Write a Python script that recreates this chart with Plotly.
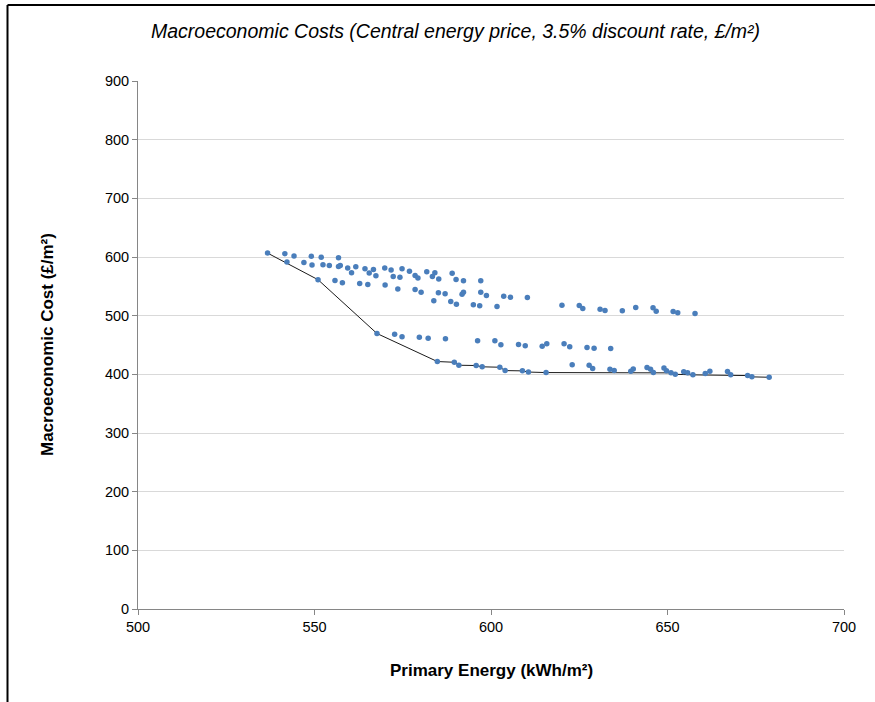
import plotly.graph_objects as go

# Primary energy (kWh/m²) and macroeconomic cost (£/m²) for each option package
primary_energy = [
    536.7, 541.6, 544.2, 549.1, 551.9, 556.8, 542.2, 547.0, 549.3, 552.4,
    554.2, 556.8, 557.3, 559.4, 561.7, 560.5, 564.3, 565.5, 566.7, 567.4,
    569.9, 571.7, 572.3, 574.8, 574.2, 576.9, 578.5, 579.3, 581.8, 583.4,
    584.1, 585.2, 589.0, 590.1, 592.2, 597.1, 551.0, 555.8, 557.9, 562.8,
    565.1, 570.0, 573.6, 578.5, 580.2, 583.8, 585.1, 587.0, 588.6, 590.2,
    591.8, 592.2, 595.0, 596.8, 597.1, 598.7, 601.7, 603.6, 605.5, 610.3,
    620.1, 625.0, 626.0, 630.9, 632.3, 637.2, 641.0, 645.9, 646.8, 651.6,
    652.9, 657.8,
    567.7, 572.7, 574.8, 579.7, 582.2, 587.1, 596.2, 601.1, 602.8, 607.8,
    609.7, 614.5, 615.8, 620.7, 622.3, 627.2, 629.2, 633.9,
    584.8, 589.6, 590.9, 595.8, 597.5, 602.5, 604.0, 608.9, 610.6, 615.6,
    623.0, 627.8, 628.8, 633.7, 634.9, 639.6, 640.3, 644.2, 645.2, 646.0,
    649.0, 649.7, 651.0, 652.2, 654.6, 655.7, 657.2, 660.7, 662.0, 667.0,
    667.9, 672.7, 673.9, 678.8,
]
macro_cost = [
    606.7, 605.7, 601.6, 601.1, 599.4, 598.9, 591.4, 590.8, 586.2, 586.9,
    585.7, 584.0, 585.7, 581.1, 583.5, 573.3, 580.1, 572.6, 578.9, 568.1,
    581.1, 577.7, 566.9, 580.1, 565.6, 575.5, 568.6, 564.0, 575.0, 566.9,
    573.3, 562.3, 572.1, 561.8, 559.6, 559.6, 561.3, 560.1, 556.2, 555.0,
    553.3, 552.1, 545.6, 544.7, 540.1, 525.4, 539.1, 537.4, 524.2, 519.6,
    536.7, 540.1, 518.6, 516.9, 540.1, 534.5, 515.7, 533.3, 531.6, 531.1,
    517.9, 517.4, 512.3, 511.1, 508.9, 508.4, 514.0, 513.5, 507.7, 507.2,
    505.0, 503.8,
    469.6, 468.4, 464.0, 463.3, 461.6, 460.6, 457.3, 457.1, 450.5, 450.8,
    448.8, 447.9, 452.2, 452.0, 446.9, 445.7, 444.3, 444.0,
    421.8, 420.6, 415.5, 415.0, 412.8, 412.1, 406.4, 405.9, 403.9, 403.0,
    416.2, 415.5, 409.8, 408.6, 406.4, 405.2, 409.3, 411.5, 408.6, 403.0,
    411.0, 405.9, 402.5, 400.1, 404.2, 402.5, 399.1, 401.3, 405.2, 404.7,
    399.1, 397.9, 395.7, 395.0,
]

# Cost-optimal frontier through the lowest-cost packages
front_energy = [536.7, 551.0, 567.7, 584.8, 589.6, 590.9, 595.8, 597.5, 602.5,
                604.0, 608.9, 610.6, 615.6, 651.0, 652.2, 657.2, 672.7, 673.9, 678.8]
front_cost = [606.7, 561.3, 469.6, 421.8, 420.6, 415.5, 415.0, 412.8, 412.1,
              406.4, 405.9, 403.9, 403.0, 402.5, 400.1, 399.1, 397.9, 395.7, 395.0]

x_ticks = [500, 550, 600, 650, 700]
y_ticks = [0, 100, 200, 300, 400, 500, 600, 700, 800, 900]

FONT = "Liberation Sans, Arial, sans-serif"
W, H = 875, 702
ML, MR, MT, MB = 138, 31, 81, 93
PW, PH = W - ML - MR, H - MT - MB


def px_to_paper_x(px):
    return (px - ML) / PW


def px_to_paper_y(py):
    return (H - MB - py) / PH


fig = go.Figure()

fig.add_trace(go.Scatter(
    x=front_energy, y=front_cost, mode="lines",
    line=dict(color="#1a1a1a", width=1),
    hoverinfo="skip", showlegend=False,
))

fig.add_trace(go.Scatter(
    x=primary_energy, y=macro_cost, mode="markers",
    marker=dict(color="#4a7ebb", size=5.5, line=dict(width=0)),
    showlegend=False,
))

fig.update_layout(
    width=W, height=H,
    margin=dict(l=ML, r=MR, t=MT, b=MB),
    paper_bgcolor="white", plot_bgcolor="white",
    font=dict(family=FONT, size=14, color="#000000"),
    showlegend=False,
    xaxis=dict(
        range=[500, 700], tickvals=x_ticks, ticktext=[str(v) for v in x_ticks],
        showgrid=False, zeroline=False,
        showline=True, linecolor="#868686", linewidth=1,
        ticks="outside", ticklen=5, tickcolor="#868686",
        tickfont=dict(family=FONT, size=14.5, color="#000000"),
    ),
    yaxis=dict(
        range=[0, 900], tickvals=y_ticks, ticktext=[str(v) for v in y_ticks],
        showgrid=True, gridcolor="#d9d9d9", gridwidth=1, zeroline=False,
        showline=True, linecolor="#868686", linewidth=1,
        ticks="outside", ticklen=5, tickcolor="#868686",
        tickfont=dict(family=FONT, size=14.5, color="#000000"),
    ),
    annotations=[
        dict(
            text="<i>Macroeconomic Costs (Central energy price, 3.5% discount rate, £/m²)</i>",
            xref="paper", yref="paper",
            x=px_to_paper_x(455), y=px_to_paper_y(31),
            xanchor="center", yanchor="middle", showarrow=False,
            font=dict(family=FONT, size=19.5, color="#000000"),
        ),
        dict(
            text="<b>Primary Energy (kWh/m²)</b>",
            xref="paper", yref="paper",
            x=px_to_paper_x(491), y=px_to_paper_y(670),
            xanchor="center", yanchor="middle", showarrow=False,
            font=dict(family=FONT, size=17, color="#000000"),
        ),
        dict(
            text="<b>Macroeconomic Cost (£/m²)</b>",
            xref="paper", yref="paper",
            x=px_to_paper_x(47), y=px_to_paper_y(345),
            xanchor="center", yanchor="middle", showarrow=False, textangle=-90,
            font=dict(family=FONT, size=17, color="#000000"),
        ),
    ],
    shapes=[
        # chart-area frame along the top and left edges
        dict(type="line", xref="paper", yref="paper",
             x0=px_to_paper_x(7.5), x1=px_to_paper_x(880),
             y0=px_to_paper_y(5), y1=px_to_paper_y(5),
             line=dict(color="#000000", width=2)),
        dict(type="line", xref="paper", yref="paper",
             x0=px_to_paper_x(7.5), x1=px_to_paper_x(7.5),
             y0=px_to_paper_y(5), y1=px_to_paper_y(710),
             line=dict(color="#000000", width=2)),
    ],
)

fig.write_html("out.html")
